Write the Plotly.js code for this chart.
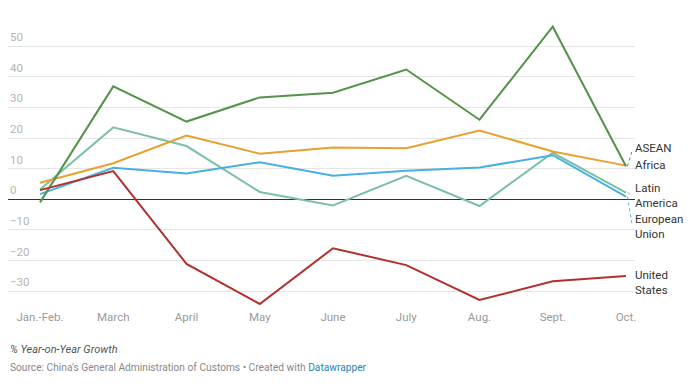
<!DOCTYPE html>
<html>
<head>
<meta charset="utf-8">
<script src="https://cdn.plot.ly/plotly-3.0.1.min.js"></script>
<style>html,body{margin:0;padding:0;background:#fff;}#chart{width:700px;height:384px;}</style>
</head>
<body>
<div id="chart"></div>
<script>
const months = ["Jan.-Feb.", "March", "April", "May", "June", "July", "Aug.", "Sept.", "Oct."];
const asean = [-1.0, 36.9, 25.4, 33.3, 34.8, 42.4, 26.0, 56.4, 10.8];
const africa = [5.4, 11.8, 20.8, 14.9, 16.9, 16.7, 22.5, 15.6, 11.0];
const latinAmerica = [3.2, 23.5, 17.4, 2.4, -2.0, 7.7, -2.2, 15.2, 2.2];
const europeanUnion = [1.7, 10.3, 8.4, 12.1, 7.7, 9.3, 10.4, 14.4, 0.9];
const unitedStates = [3.0, 9.2, -21.1, -34.2, -16.0, -21.5, -32.9, -26.8, -25.1];
const seriesNames = ["ASEAN", "Africa", "Latin<br>America", "European<br>Union", "United<br>States"];
const yTickVals = [-30, -20, -10, 0, 10, 20, 30, 40, 50];
const yTickText = ["\u221230", "\u221220", "\u221210", "0", "10", "20", "30", "40", "50"];

// style / layout config
const colors = ["#55924a", "#e8a02f", "#7cc0a6", "#47b0e0", "#b0302c"];
const labelY = [16.8, 11.2, 1.4, -9.0, -27.3];
const connector = [true, false, true, true, false];
const drawOrder = [2, 3, 1, 0, 4];

const seriesValues = [asean, africa, latinAmerica, europeanUnion, unitedStates];
const traces = drawOrder.map(i => ({
  x: months, y: seriesValues[i], type: "scatter", mode: "lines",
  name: seriesNames[i].replace("<br>", " "),
  line: {color: colors[i], width: 2}, hoverinfo: "skip"
}));

const annotations = [];
yTickVals.forEach((v, k) => annotations.push({
  xref: "paper", yref: "y", x: 0, y: v, xanchor: "left", yanchor: "bottom",
  text: yTickText[k], showarrow: false, yshift: 0,
  font: {family: "Roboto", size: 11.5, color: "#b5b5b5"}
}));
seriesNames.forEach((n, i) => annotations.push({
  xref: "paper", yref: "y", x: 1, y: labelY[i], xanchor: "left", yanchor: "middle",
  xshift: -2, text: n, showarrow: false, align: "left",
  font: {family: "Roboto", size: 11.5, color: "#333"}
}));
annotations.push({
  xref: "paper", yref: "paper", x: 0, y: 0, xanchor: "left", yanchor: "middle", yshift: -41,
  text: "<i>% Year-on-Year Growth</i>", showarrow: false,
  font: {family: "Roboto", size: 11, color: "#555"}
});
annotations.push({
  xref: "paper", yref: "paper", x: 0, y: 0, xanchor: "left", yanchor: "middle", yshift: -59,
  text: "Source: China's General Administration of Customs \u2022 Created with <span style='color:#1d86b0'>Datawrapper</span>",
  showarrow: false, font: {family: "Roboto", size: 10.2, color: "#888"}
});

const shapes = [];
seriesNames.forEach((n, i) => {
  if (!connector[i]) return;
  const last = seriesValues[i][seriesValues[i].length - 1];
  shapes.push({
    type: "line", xref: "x", yref: "y",
    x0: months.length - 1 + 0.02, y0: last, x1: months.length - 1 + 0.08, y1: labelY[i] + (labelY[i] > last ? -1.2 : 1.2) * (i === 2 ? 0 : 1),
    line: {color: colors[i], width: 1, dash: "dot"}
  });
});

const layout = {
  width: 700, height: 384,
  margin: {l: 8, r: 65, t: 20, b: 76},
  paper_bgcolor: "#fff", plot_bgcolor: "#fff",
  showlegend: false,
  font: {family: "Roboto"},
  xaxis: {
    type: "category", range: [-0.437, 8.123], showgrid: false, zeroline: false,
    showline: false, ticks: "", ticklabelstandoff: 0,
    tickfont: {family: "Roboto", size: 11.5, color: "#999"}
  },
  yaxis: {
    range: [-35.52, 58.59], tickvals: yTickVals, showticklabels: false,
    gridcolor: "#e6e6e6", gridwidth: 1, zeroline: true, zerolinecolor: "#333", zerolinewidth: 1,
    showline: false, ticks: ""
  },
  annotations: annotations,
  shapes: shapes
};

Plotly.newPlot("chart", traces, layout, {displayModeBar: false, staticPlot: true});
</script>
</body>
</html>
